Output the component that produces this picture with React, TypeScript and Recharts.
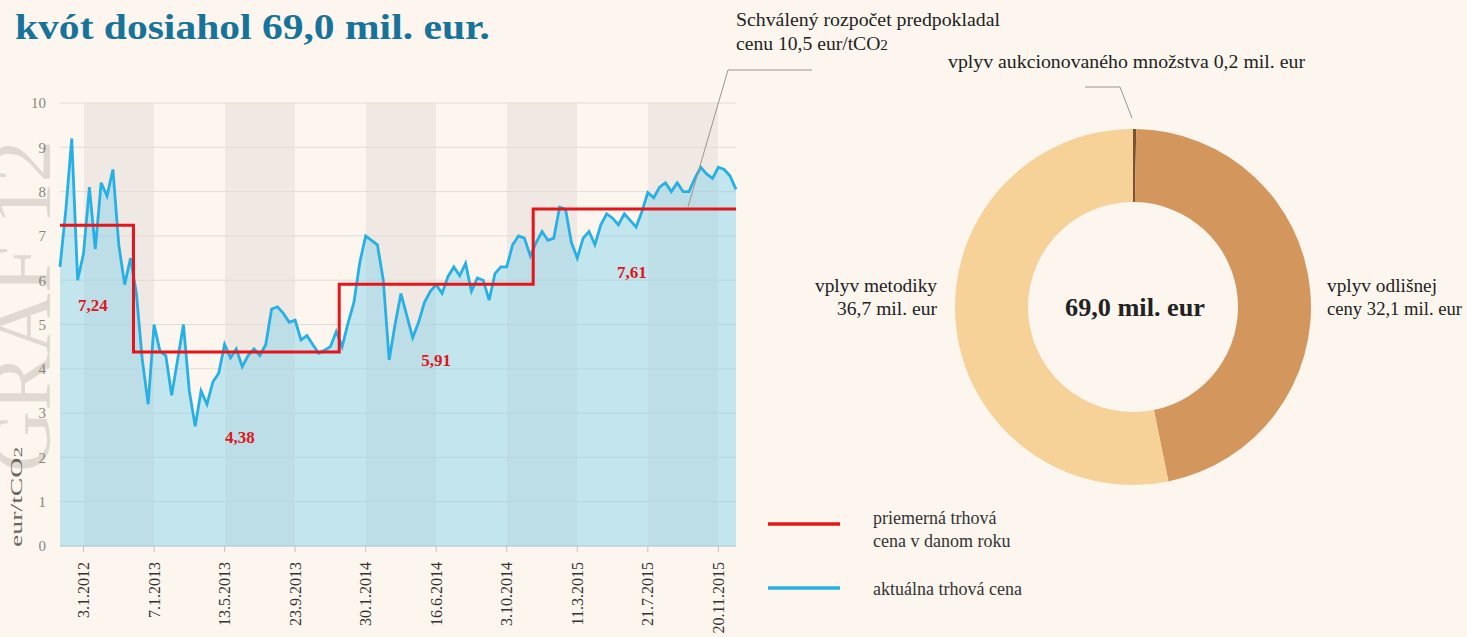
import React from 'react';
import {
  ComposedChart, Area, Line, XAxis, YAxis, CartesianGrid, ReferenceDot,
  PieChart, Pie, Cell
} from 'recharts';

const serif = '"Liberation Serif", "DejaVu Serif", serif';

// x axis: evenly spaced trading-day samples, a label every 12th sample
const tickLabels = [
  '3.1.2012', '7.1.2013', '13.5.2013', '23.9.2013', '30.1.2014',
  '16.6.2014', '3.10.2014', '11.3.2015', '21.7.2015', '20.11.2015',
];
const tickIndex = tickLabels.map((_, k) => 4 + 12 * k);

// actual market price (eur/tCO2)
const price = [
  6.3, 7.6, 9.2, 6.0, 6.6, 8.1, 6.7, 8.2, 7.9, 8.5,
  6.8, 5.9, 6.5, 5.7, 4.2, 3.2, 5.0, 4.4, 4.3, 3.4,
  4.2, 5.0, 3.5, 2.7, 3.5, 3.2, 3.7, 3.9, 4.55, 4.25,
  4.45, 4.05, 4.3, 4.45, 4.3, 4.55, 5.35, 5.4, 5.25, 5.05,
  5.1, 4.65, 4.75, 4.55, 4.35, 4.42, 4.5, 4.84, 4.5, 5.03,
  5.5, 6.4, 7.0, 6.9, 6.8, 6.0, 4.2, 5.0, 5.7, 5.2,
  4.7, 5.05, 5.5, 5.75, 5.9, 5.7, 6.08, 6.3, 6.1, 6.38,
  5.75, 6.05, 6.0, 5.55, 6.15, 6.3, 6.3, 6.8, 7.0, 6.95,
  6.55, 6.85, 7.1, 6.9, 6.95, 7.65, 7.6, 6.85, 6.5, 6.95,
  7.1, 6.8, 7.25, 7.5, 7.4, 7.25, 7.5, 7.35, 7.2, 7.55,
  7.98, 7.86, 8.1, 8.2, 8.0, 8.2, 8.0, 8.0, 8.3, 8.55,
  8.4, 8.3, 8.55, 8.5, 8.35, 8.05,
];

// yearly average price and the sample where each year starts
const yearAvg = [7.24, 4.38, 5.91, 7.61];
const yearStart = [0, 13, 48, 81];
const avgLabels = [
  { text: '7,24', i: 5.6, v: 5.45 },
  { text: '4,38', i: 30.6, v: 2.46 },
  { text: '5,91', i: 64, v: 4.2 },
  { text: '7,61', i: 97.3, v: 6.18 },
];

// donut
const donutNames = ['vplyv aukcionovaného množstva', 'vplyv odlišnej ceny', 'vplyv metodiky'];
const donutValues = [0.2, 32.1, 36.7];
const donutColors = ['#7d5232', '#d3975e', '#f6d198'];

const data = price.map((p, i) => {
  let k = 0;
  while (k + 1 < yearStart.length && i >= yearStart[k + 1]) k++;
  return { i, price: p, avg: yearAvg[k] };
});

const donutData = donutNames.map((name, k) => ({ name, value: donutValues[k] }));

const DateTick = (props: any) => {
  const { x, y, payload } = props;
  const k = tickIndex.indexOf(payload.value);
  return (
    <g transform={`translate(${x},${y})`}>
      <text transform="rotate(-90)" textAnchor="end" dy="0.35em" fill="#333" fontSize={16} fontFamily={serif}>
        {tickLabels[k]}
      </text>
    </g>
  );
};

export default function App() {
  return (
    <div style={{ position: 'absolute', left: 0, top: 0, width: 1467, height: 637, background: '#fcf6ee', overflow: 'hidden', fontFamily: serif }}>
      {/* watermark */}
      <svg width={1467} height={637} style={{ position: 'absolute', left: 0, top: 0 }}>
        <text transform="translate(50,472) rotate(-90)" fontSize={84} fill="#e0d9d1" fontFamily={serif} textLength={332} lengthAdjust="spacingAndGlyphs">GRAF 12</text>
      </svg>

      <div style={{ position: 'absolute', left: 0, top: 0 }}>
        <ComposedChart width={760} height={637} data={data} margin={{ top: 103, right: 24, bottom: 6, left: 0 }}>
          <CartesianGrid horizontal={false} vertical verticalFill={['#fcf6ee', '#f0e9e3']} stroke="none" />
          <CartesianGrid vertical={false} stroke="#e3dcd4" />
          <XAxis
            type="number" dataKey="i" domain={[0, price.length - 1]} ticks={tickIndex} interval={0}
            height={85} tickSize={6} tickMargin={10} tick={<DateTick />}
            axisLine={{ stroke: '#a9d0da' }} tickLine={{ stroke: '#c9c3bc' }}
          />
          <YAxis
            domain={[0, 10]} ticks={[0, 1, 2, 3, 4, 5, 6, 7, 8, 9, 10]} width={60}
            axisLine={false} tickLine={false} tickSize={0} tickMargin={14}
            tick={{ fill: '#8a857e', fontSize: 15, fontFamily: serif }}
          />
          <Area
            type="linear" dataKey="price" stroke="#27b0e3" strokeWidth={2.8}
            fill="#7fd1ec" fillOpacity={0.45} isAnimationActive={false} dot={false} activeDot={false}
          />
          <Line
            type="step" dataKey="avg" stroke="#e3161b" strokeWidth={3}
            dot={false} activeDot={false} isAnimationActive={false}
          />
          {avgLabels.map((a) => (
            <ReferenceDot
              key={a.text} x={a.i} y={a.v} r={2} fill="none" stroke="none"
              label={{ value: a.text, position: 'center', fill: '#e0161b', fontSize: 17, fontWeight: 'bold', fontFamily: serif }}
            />
          ))}
        </ComposedChart>
      </div>

      <div style={{ position: 'absolute', left: 953, top: 127 }}>
        <PieChart width={360} height={360} margin={{ top: 0, right: 0, bottom: 0, left: 0 }}>
          <Pie
            data={donutData} dataKey="value" nameKey="name" cx={180} cy={180}
            innerRadius={105} outerRadius={178} startAngle={90} endAngle={-270}
            stroke="none" isAnimationActive={false}
          >
            {donutData.map((d, k) => <Cell key={d.name} fill={donutColors[k]} />)}
          </Pie>
        </PieChart>
      </div>

      {/* texts and annotations */}
      <svg width={1467} height={637} style={{ position: 'absolute', left: 0, top: 0, pointerEvents: 'none' }} fontFamily={serif}>
        <text x={15} y={39} fontSize={36} fontWeight="bold" fill="#17739a" textLength={475} lengthAdjust="spacingAndGlyphs">kvót dosiahol 69,0 mil. eur.</text>

        <text transform="translate(22,497) rotate(-90)" textAnchor="middle" fontSize={17} fill="#6b6660" textLength={100} lengthAdjust="spacingAndGlyphs">
          eur/tCO<tspan fontSize={13}>2</tspan>
        </text>

        <text x={736} y={26} fontSize={18} fill="#222" textLength={264} lengthAdjust="spacingAndGlyphs">Schválený rozpočet predpokladal</text>
        <text x={736} y={50} fontSize={18} fill="#222" textLength={152} lengthAdjust="spacingAndGlyphs">cenu 10,5 eur/tCO<tspan fontSize={14}>2</tspan></text>
        <polyline points="688,207 728,70 812,70" fill="none" stroke="#9a958f" strokeWidth={1} />

        <text x={948} y={68} fontSize={18} fill="#222" textLength={357} lengthAdjust="spacingAndGlyphs">vplyv aukcionovaného množstva 0,2 mil. eur</text>
        <polyline points="1085,87 1120,87 1132,118" fill="none" stroke="#9a958f" strokeWidth={1} />

        <text x={937} y={292} fontSize={18} fill="#222" textAnchor="end" textLength={122} lengthAdjust="spacingAndGlyphs">vplyv metodiky</text>
        <text x={937} y={315} fontSize={18} fill="#222" textAnchor="end" textLength={100} lengthAdjust="spacingAndGlyphs">36,7 mil. eur</text>
        <text x={1327} y={292} fontSize={18} fill="#222" textLength={110} lengthAdjust="spacingAndGlyphs">vplyv odlišnej</text>
        <text x={1327} y={315} fontSize={18} fill="#222" textLength={135} lengthAdjust="spacingAndGlyphs">ceny 32,1 mil. eur</text>

        <text x={1135} y={316} fontSize={25} fontWeight="bold" fill="#222" textAnchor="middle" textLength={140} lengthAdjust="spacingAndGlyphs">69,0 mil. eur</text>

        <line x1={768} y1={524} x2={840} y2={524} stroke="#e3161b" strokeWidth={3.5} />
        <text x={873} y={524} fontSize={18} fill="#333">priemerná trhová</text>
        <text x={873} y={547} fontSize={18} fill="#333">cena v danom roku</text>
        <line x1={768} y1={588} x2={840} y2={588} stroke="#27b0e3" strokeWidth={3.5} />
        <text x={873} y={595} fontSize={18} fill="#333">aktuálna trhová cena</text>
      </svg>
    </div>
  );
}
